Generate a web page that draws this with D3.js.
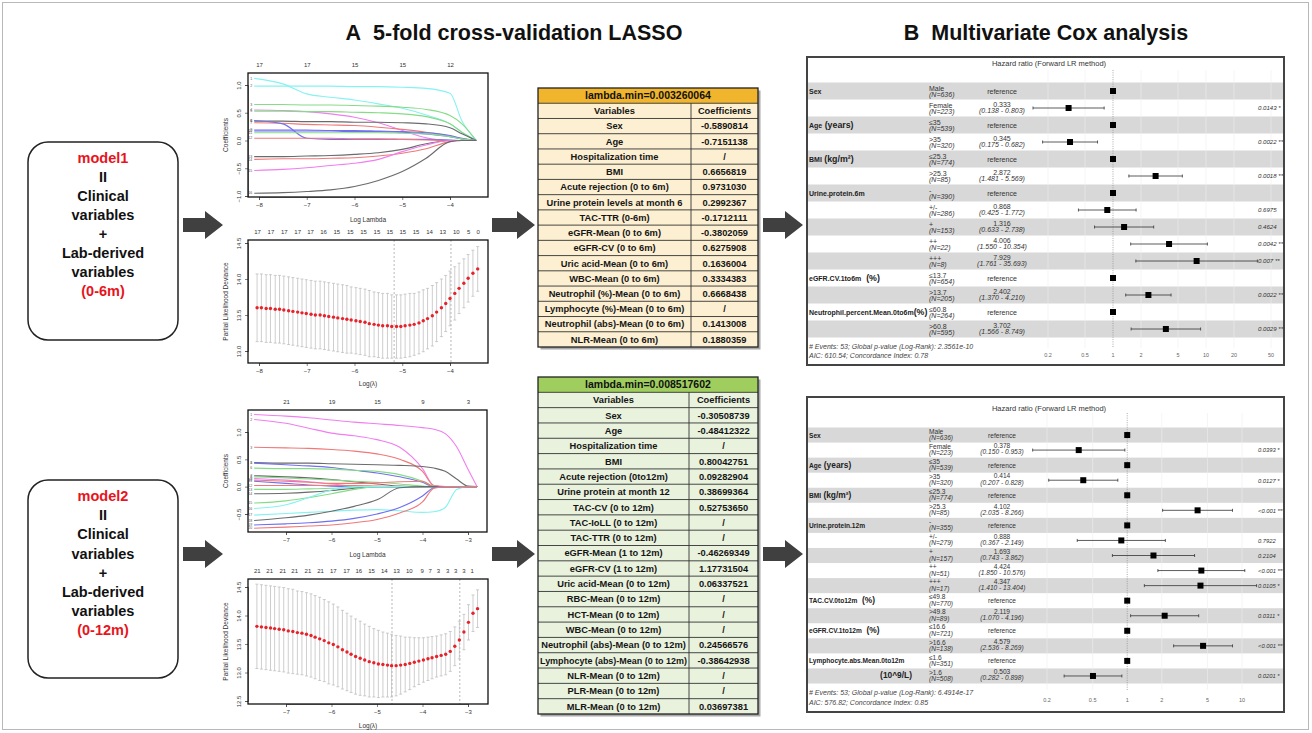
<!DOCTYPE html>
<html>
<head>
<meta charset="utf-8">
<script src="https://cdn.jsdelivr.net/npm/d3@7/dist/d3.min.js"></script>
<style>
  body { margin: 0; background: #fff; }
  svg { display: block; font-family: "Liberation Sans", Arial, sans-serif; }
</style>
</head>
<body>
<svg id="fig" width="1312" height="733"></svg>
<script>
// ---------------- LASSO coefficient paths, model 1 ----------------
var coef1Knots = [-8.1, -7.5, -7.0, -6.5, -6.0, -5.5, -5.0, -4.5, -4.0, -3.75, -3.45];
var coef1Paths = [
  [1.12, 1.02, 0.84, 0.78, 0.73, 0.66, 0.58, 0.46, 0.30, 0.15, 0],
  [0.98, 0.98, 0.98, 0.98, 0.97, 0.97, 0.96, 0.94, 0.85, 0.35, 0],
  [0.65, 0.65, 0.64, 0.64, 0.63, 0.62, 0.60, 0.56, 0.45, 0.30, 0],
  [0.55, 0.54, 0.52, 0.48, 0.42, 0.32, 0.18, 0.05, 0, 0, 0],
  [0.53, 0.53, 0.52, 0.52, 0.51, 0.50, 0.48, 0.43, 0.30, 0.15, 0],
  [0.35, 0.35, 0.34, 0.34, 0.33, 0.33, 0.32, 0.30, 0.23, 0.12, 0],
  [0.32, 0.31, 0.29, 0.28, 0.27, 0.24, 0.20, 0.15, 0.08, 0.03, 0],
  [0.36, 0.30, 0.04, 0.02, 0.02, 0.02, 0.02, 0.02, 0.01, 0, 0],
  [0.19, 0.19, 0.19, 0.18, 0.18, 0.17, 0.16, 0.14, 0.09, 0.04, 0],
  [0.17, 0.17, 0.17, 0.17, 0.16, 0.16, 0.15, 0.12, 0.07, 0.03, 0],
  [0.14, 0.14, 0.14, 0.14, 0.14, 0.14, 0.13, 0.12, 0.07, 0.03, 0],
  [0.04, 0.04, 0.04, 0.04, 0.03, 0.03, 0.02, 0.01, 0, 0, 0],
  [-0.29, -0.29, -0.28, -0.27, -0.25, -0.22, -0.16, -0.06, 0, 0, 0],
  [-0.34, -0.33, -0.33, -0.32, -0.31, -0.28, -0.23, -0.15, -0.02, 0, 0],
  [-0.54, -0.52, -0.49, -0.45, -0.41, -0.34, -0.20, -0.08, 0, 0, 0],
  [-0.95, -0.94, -0.92, -0.89, -0.83, -0.72, -0.56, -0.32, -0.02, 0, 0]
];
var coef1Cols = ["c", "c", "g", "m", "g", "k", "r", "b", "b", "b", "g", "r", "k", "r", "m", "k"];
var coef1TopX = [-8, -7, -6, -5, -4];
var coef1TopLab = ["17", "17", "15", "15", "12"];

// ---------------- CV deviance, model 1 ----------------
var cv1X = [-8.04, -7.95, -7.85, -7.76, -7.66, -7.57, -7.48, -7.38, -7.29, -7.19,
            -7.10, -7.01, -6.91, -6.82, -6.72, -6.63, -6.54, -6.44, -6.35, -6.25,
            -6.16, -6.07, -5.97, -5.88, -5.78, -5.69, -5.59, -5.50, -5.41, -5.31,
            -5.22, -5.12, -5.03, -4.94, -4.84, -4.75, -4.65, -4.56, -4.47, -4.37,
            -4.28, -4.18, -4.09, -4.00, -3.90, -3.81, -3.71, -3.62, -3.52, -3.42];
var cv1Mean = [13.60, 13.60, 13.59, 13.59, 13.58, 13.58, 13.57, 13.56, 13.55, 13.54,
               13.53, 13.52, 13.51, 13.50, 13.50, 13.49, 13.48, 13.47, 13.46, 13.45,
               13.44, 13.43, 13.42, 13.41, 13.40, 13.38, 13.37, 13.36, 13.35, 13.35,
               13.34, 13.34, 13.34, 13.35, 13.36, 13.37, 13.39, 13.42, 13.45, 13.49,
               13.54, 13.60, 13.66, 13.73, 13.80, 13.87, 13.94, 14.01, 14.08, 14.14];
var cv1Se = [0.47, 0.47, 0.47, 0.47, 0.47, 0.47, 0.47, 0.47, 0.47, 0.47,
             0.47, 0.47, 0.47, 0.47, 0.47, 0.47, 0.47, 0.47, 0.47, 0.47,
             0.47, 0.46, 0.46, 0.46, 0.46, 0.46, 0.45, 0.45, 0.45, 0.45,
             0.44, 0.44, 0.44, 0.44, 0.44, 0.43, 0.43, 0.43, 0.42, 0.42,
             0.41, 0.40, 0.39, 0.38, 0.37, 0.35, 0.34, 0.33, 0.32, 0.31];
var cv1TopX = [-8.04, -7.76, -7.48, -7.20, -6.93, -6.66, -6.38, -6.10, -5.82, -5.54,
               -5.27, -5.00, -4.72, -4.44, -4.16, -3.88, -3.62, -3.42];
var cv1TopLab = ["17", "17", "17", "17", "17", "16", "15", "15", "15", "15",
                 "15", "15", "15", "14", "13", "10", "5", "0"];
var cv1Lines = [-5.17, -3.98];

// ---------------- LASSO coefficient paths, model 2 ----------------
var coef2Knots = [-7.7, -7.0, -6.5, -6.0, -5.5, -5.0, -4.5, -4.0, -3.75, -3.5, -3.25, -3.0, -2.8];
var coef2Paths = [
  [1.32, 1.29, 1.26, 1.22, 1.18, 1.15, 1.12, 1.08, 1.05, 0.97, 0.73, 0.32, 0],
  [1.23, 1.16, 1.07, 0.98, 0.93, 0.86, 0.72, 0.33, 0.02, 0, 0, 0, 0],
  [0.72, 0.71, 0.70, 0.68, 0.65, 0.60, 0.50, 0.28, 0.02, 0, 0, 0, 0],
  [0.44, 0.43, 0.43, 0.42, 0.41, 0.40, 0.39, 0.37, 0.34, 0.28, 0.14, 0.01, 0],
  [0.43, 0.40, 0.38, 0.35, 0.30, 0.25, 0.18, 0.08, 0, 0, 0, 0, 0],
  [0.34, 0.33, 0.33, 0.32, 0.30, 0.28, 0.22, 0.10, 0.01, 0, 0, 0, 0],
  [0.20, 0.18, 0.16, 0.13, 0.09, 0.05, 0.01, 0, 0, 0, 0, 0, 0],
  [0.18, 0.16, 0.14, 0.12, 0.10, 0.08, 0.05, 0.01, 0, 0, 0, 0, 0],
  [0.15, 0.12, 0.09, 0.05, 0.01, 0, 0, 0, 0, 0, 0, 0, 0],
  [0.12, 0.10, 0.08, 0.06, 0.06, 0.07, 0.09, 0.10, 0, 0, 0, 0, 0],
  [0.10, 0.06, 0.03, 0.01, 0, 0, 0, 0, 0, 0, 0, 0, 0],
  [0.02, 0.02, 0.02, 0.02, 0.02, 0.01, 0, 0, 0, 0, 0, 0, 0],
  [-0.05, -0.05, -0.04, -0.03, -0.01, 0, 0, 0, 0, 0, 0, 0, 0],
  [-0.13, -0.12, -0.10, -0.07, -0.03, 0, 0, 0, 0, 0, 0, 0, 0],
  [-0.30, -0.26, -0.20, -0.13, -0.05, 0, 0, 0, 0, 0, 0, 0, 0],
  [-0.40, -0.33, -0.20, -0.06, 0, 0, 0, 0, 0, 0, 0, 0, 0],
  [-0.52, -0.49, -0.47, -0.45, -0.43, -0.42, -0.44, -0.47, -0.46, -0.38, -0.05, 0, 0],
  [-0.62, -0.57, -0.52, -0.45, -0.36, -0.24, -0.02, 0, 0, 0, 0, 0, 0],
  [-0.70, -0.68, -0.66, -0.63, -0.58, -0.50, -0.38, -0.17, -0.02, 0, 0, 0, 0],
  [-0.76, -0.74, -0.72, -0.70, -0.66, -0.60, -0.48, -0.28, -0.03, 0, 0, 0, 0]
];
var coef2Cols = ["m", "m", "r", "k", "b", "g", "k", "g", "m", "r", "b", "r", "g", "k", "g", "c", "c", "k", "b", "r"];
var coef2TopX = [-7, -6, -5, -4, -3];
var coef2TopLab = ["21", "19", "15", "9", "3"];

// ---------------- CV deviance, model 2 ----------------
var cv2X = [-7.64, -7.54, -7.44, -7.34, -7.25, -7.15, -7.05, -6.95, -6.85, -6.75,
            -6.65, -6.55, -6.45, -6.36, -6.26, -6.16, -6.06, -5.96, -5.86, -5.76,
            -5.66, -5.57, -5.47, -5.37, -5.27, -5.17, -5.07, -4.97, -4.87, -4.77,
            -4.68, -4.58, -4.48, -4.38, -4.28, -4.18, -4.08, -3.98, -3.88, -3.79,
            -3.69, -3.59, -3.49, -3.39, -3.29, -3.19, -3.09, -2.99, -2.89, -2.79];
var cv2Mean = [13.81, 13.80, 13.79, 13.78, 13.77, 13.76, 13.75, 13.73, 13.72, 13.70,
               13.69, 13.67, 13.65, 13.62, 13.59, 13.56, 13.52, 13.49, 13.45, 13.40,
               13.36, 13.32, 13.28, 13.25, 13.22, 13.19, 13.17, 13.15, 13.14, 13.13,
               13.12, 13.12, 13.13, 13.14, 13.16, 13.18, 13.20, 13.22, 13.24, 13.26,
               13.28, 13.30, 13.32, 13.37, 13.46, 13.57, 13.71, 13.88, 14.04, 14.12];
var cv2Se = [0.74, 0.74, 0.74, 0.74, 0.74, 0.74, 0.74, 0.74, 0.74, 0.73,
             0.73, 0.73, 0.73, 0.73, 0.73, 0.72, 0.72, 0.71, 0.70, 0.69,
             0.68, 0.67, 0.66, 0.65, 0.63, 0.62, 0.60, 0.59, 0.57, 0.56,
             0.55, 0.53, 0.51, 0.48, 0.46, 0.43, 0.41, 0.39, 0.38, 0.37,
             0.36, 0.36, 0.36, 0.35, 0.34, 0.33, 0.31, 0.31, 0.32, 0.33];
var cv2TopX = [-7.64, -7.37, -7.08, -6.82, -6.53, -6.25, -5.97, -5.68, -5.41, -5.13,
               -4.85, -4.58, -4.30, -4.02, -3.84, -3.66, -3.46, -3.28, -3.10, -2.92];
var cv2TopLab = ["21", "21", "21", "21", "21", "21", "17", "17", "16", "15",
                 "14", "13", "10", "9", "7", "3", "3", "3", "3", "1"];
var cv2Lines = [-4.67, -3.18];

// ---------------- LASSO tables ----------------
var tab1Vars = ["Sex", "Age", "Hospitalization time", "BMI", "Acute rejection (0 to 6m)",
  "Urine protein levels at month 6", "TAC-TTR (0-6m)", "eGFR-Mean (0 to 6m)", "eGFR-CV (0 to 6m)",
  "Uric acid-Mean (0 to 6m)", "WBC-Mean (0 to 6m)", "Neutrophil (%)-Mean (0 to 6m)",
  "Lymphocyte (%)-Mean (0 to 6m)", "Neutrophil (abs)-Mean (0 to 6m)", "NLR-Mean (0 to 6m)"];
var tab1Coefs = ["-0.5890814", "-0.7151138", "/", "0.6656819", "0.9731030", "0.2992367", "-0.1712111",
  "-0.3802059", "0.6275908", "0.1636004", "0.3334383", "0.6668438", "/", "0.1413008", "0.1880359"];
var tab2Vars = ["Sex", "Age", "Hospitalization time", "BMI", "Acute rejection (0to12m)",
  "Urine protein at month 12", "TAC-CV (0 to 12m)", "TAC-IoLL (0 to 12m)", "TAC-TTR (0 to 12m)",
  "eGFR-Mean (1 to 12m)", "eGFR-CV (1 to 12m)", "Uric acid-Mean (0 to 12m)", "RBC-Mean (0 to 12m)",
  "HCT-Mean (0 to 12m)", "WBC-Mean (0 to 12m)", "Neutrophil (abs)-Mean (0 to 12m)",
  "Lymphocyte (abs)-Mean (0 to 12m)", "NLR-Mean (0 to 12m)", "PLR-Mean (0 to 12m)", "MLR-Mean (0 to 12m)"];
var tab2Coefs = ["-0.30508739", "-0.48412322", "/", "0.80042751", "0.09282904", "0.38699364", "0.52753650",
  "/", "/", "-0.46269349", "1.17731504", "0.06337521", "/", "/", "/", "0.24566576", "-0.38642938",
  "/", "/", "0.03697381"];

// ---------------- Cox forest, model 1 ----------------
var f1Levels = ["Male", "Female", "\u226435", ">35", "\u226425.3", ">25.3", "-", "+/-", "+", "++", "+++",
                "\u226413.7", ">13.7", "\u226460.8", ">60.8"];
var f1N = [636, 223, 539, 320, 774, 85, 390, 286, 153, 22, 8, 654, 205, 264, 595];
var f1HR = [1, 0.333, 1, 0.345, 1, 2.872, 1, 0.868, 1.316, 4.006, 7.929, 1, 2.402, 1, 3.702];
var f1Lo = [null, 0.138, null, 0.175, null, 1.481, null, 0.425, 0.633, 1.550, 1.761, null, 1.370, null, 1.566];
var f1Hi = [null, 0.803, null, 0.682, null, 5.569, null, 1.772, 2.738, 10.354, 35.693, null, 4.210, null, 8.749];
var f1P = ["", "0.0143 *", "", "0.0022 **", "", "0.0018 **", "", "0.6975", "0.4624", "0.0042 **",
           "0.007 **", "", "0.0022 **", "", "0.0029 **"];
var f1VarRows = [0, 2, 4, 6, 11, 13];
var f1VarNames = ["Sex", "Age", "BMI", "Urine.protein.6m", "eGFR.CV.1to6m", "Neutrophil.percent.Mean.0to6m"];
var f1VarUnits = ["", " (years)", " (kg/m\u00b2)", "", "  (%)", "(%)"];
var f1Ticks = [0.2, 0.5, 1, 2, 5, 10, 20, 50];
var f1Notes = ["# Events: 53; Global p-value (Log-Rank): 2.3561e-10", "AIC: 610.54; Concordance Index: 0.78"];

// ---------------- Cox forest, model 2 ----------------
var f2Levels = ["Male", "Female", "\u226435", ">35", "\u226425.3", ">25.3", "-", "+/-", "+", "++", "+++",
                "\u226449.8", ">49.8", "\u226416.6", ">16.6", "\u22641.6", ">1.6"];
var f2N = [636, 223, 539, 320, 774, 85, 355, 279, 157, 51, 17, 770, 89, 721, 138, 351, 508];
var f2HR = [1, 0.378, 1, 0.414, 1, 4.102, 1, 0.888, 1.693, 4.424, 4.347, 1, 2.119, 1, 4.579, 1, 0.503];
var f2Lo = [null, 0.150, null, 0.207, null, 2.035, null, 0.367, 0.743, 1.850, 1.410, null, 1.070, null, 2.536, null, 0.282];
var f2Hi = [null, 0.953, null, 0.828, null, 8.266, null, 2.149, 3.862, 10.576, 13.404, null, 4.196, null, 8.269, null, 0.898];
var f2P = ["", "0.0393 *", "", "0.0127 *", "", "<0.001 ***", "", "0.7922", "0.2104", "<0.001 ***",
           "0.0105 *", "", "0.0311 *", "", "<0.001 ***", "", "0.0201 *"];
var f2VarRows = [0, 2, 4, 6, 11, 13, 15, 16];
var f2VarNames = ["Sex", "Age", "BMI", "Urine.protein.12m", "TAC.CV.0to12m", "eGFR.CV.1to12m",
                  "Lymphocyte.abs.Mean.0to12m", ""];
var f2VarUnits = ["", " (years)", " (kg/m\u00b2)", "", "  (%)", "  (%)", "", "(10^9/L)"];
var f2Ticks = [0.2, 0.5, 1, 2, 5, 10];
var f2Notes = ["# Events: 53; Global p-value (Log-Rank): 6.4914e-17", "AIC: 576.82; Concordance Index: 0.85"];

// ---------------- drawing ----------------
var FONT = '"Liberation Sans", Arial, sans-serif';
var rPal = { k: "#6b6b6b", r: "#f07878", g: "#86dc86", b: "#6f6ff0", c: "#86f2f2", m: "#f07ef0" };
var svg = d3.select("#fig");

svg.append("rect").attr("x", 2.5).attr("y", 2.5).attr("width", 1306).attr("height", 727)
  .attr("fill", "#fff").attr("stroke", "#b8b8b8");

svg.append("text").attr("x", 514).attr("y", 40).attr("text-anchor", "middle")
  .attr("font-size", 21.5).attr("font-weight", "bold").attr("fill", "#111")
  .text("A\u00a0\u00a05-fold cross-validation LASSO");
svg.append("text").attr("x", 1046).attr("y", 40).attr("text-anchor", "middle")
  .attr("font-size", 21.5).attr("font-weight", "bold").attr("fill", "#111")
  .text("B\u00a0\u00a0Multivariate Cox analysis");

function modelBox(y0, lines, step) {
  svg.append("rect").attr("x", 28).attr("y", y0).attr("width", 150).attr("height", 198).attr("rx", 20)
    .attr("fill", "#fff").attr("stroke", "#222").attr("stroke-width", 1.5);
  svg.append("g").selectAll("text").data(lines).join("text")
    .attr("x", 103).attr("y", function(d, i) { return y0 + 21 + i * step; })
    .attr("text-anchor", "middle").attr("font-size", 14.5).attr("font-weight", "bold")
    .attr("fill", function(d, i) { return (i === 0 || i === lines.length - 1) ? "#e8141b" : "#111"; })
    .text(function(d) { return d; });
}
modelBox(142, ["model1", "II", "Clinical", "variables", "+", "Lab-derived", "variables", "(0-6m)"], 19);
modelBox(480, ["model2", "II", "Clinical", "variables", "+", "Lab-derived", "variables", "(0-12m)"], 19.2);

function arrow(x0, x1, cy) {
  var hw = 18, sh = 7, hh = 14;
  var pts = [[x0, cy - sh], [x1 - hw, cy - sh], [x1 - hw, cy - hh], [x1, cy],
             [x1 - hw, cy + hh], [x1 - hw, cy + sh], [x0, cy + sh]];
  svg.append("path").attr("d", d3.line()(pts) + "Z").attr("fill", "#404040");
}
[225, 554].forEach(function(cy) {
  arrow(183, 223, cy);
  arrow(492, 535, cy);
  arrow(763, 803, cy);
});

function styleAxis(a) {
  a.attr("font-family", FONT);
  a.selectAll("text").attr("font-size", 6).attr("fill", "#333");
  a.selectAll("line,path").attr("stroke", "#333").attr("stroke-width", 0.6);
}

function rAxes(g, x, y, cfg) {
  var b = cfg.box;
  var bx = g.append("g").attr("transform", "translate(0," + b.y1 + ")")
    .call(d3.axisBottom(x).tickValues(cfg.xt).tickSize(3).tickPadding(3).tickFormat(d3.format("d")));
  var ly = g.append("g").attr("transform", "translate(" + b.x0 + ",0)")
    .call(d3.axisLeft(y).tickValues(cfg.yt).tickSize(3).tickFormat(d3.format(".1f")));
  ly.selectAll(".tick text").attr("x", 0).attr("dy", 0).attr("text-anchor", "middle")
    .attr("transform", "translate(-7,0) rotate(-90)");
  var tp = g.append("g").attr("transform", "translate(0," + b.y0 + ")")
    .call(d3.axisTop(x).tickValues(cfg.topX).tickSize(0).tickPadding(6)
      .tickFormat(function(d, i) { return cfg.topLab[i]; }));
  tp.select(".domain").remove();
  [bx, ly, tp].forEach(styleAxis);
  g.append("text").attr("x", (b.x0 + b.x1) / 2).attr("y", cfg.xlabY).attr("text-anchor", "middle")
    .attr("font-size", 6.5).attr("fill", "#333").text(cfg.xlab);
  g.append("text").attr("transform", "translate(228," + ((b.y0 + b.y1) / 2) + ") rotate(-90)")
    .attr("text-anchor", "middle").attr("font-size", 6.5).attr("fill", "#333").text(cfg.ylab);
  g.append("rect").attr("x", b.x0).attr("y", b.y0).attr("width", b.x1 - b.x0).attr("height", b.y1 - b.y0)
    .attr("fill", "none").attr("stroke", "#111").attr("stroke-width", 1.3);
}

function coefPlot(cfg) {
  var g = svg.append("g");
  var x = d3.scaleLinear().domain(cfg.xd).range(cfg.xr);
  var y = d3.scaleLinear().domain(cfg.yd).range(cfg.yr);
  var line = d3.line()
    .x(function(d, i) { return x(cfg.knots[i]); })
    .y(function(d) { return y(d); })
    .curve(d3.curveMonotoneX);
  g.append("g").selectAll("path").data(cfg.paths).join("path")
    .attr("d", line).attr("fill", "none").attr("stroke-width", 1.1)
    .attr("stroke", function(d, i) { return rPal[cfg.cols[i]]; });
  g.append("g").selectAll("text").data(cfg.paths).join("text")
    .attr("x", x(cfg.knots[0]) - 2).attr("y", function(d) { return y(d[0]) + 1.2; })
    .attr("text-anchor", "end").attr("font-size", 3.5).attr("fill", "#555")
    .text(function(d, i) { return i + 1; });
  rAxes(g, x, y, cfg);
}

function cvPlot(cfg) {
  var g = svg.append("g");
  var x = d3.scaleLinear().domain(cfg.xd).range(cfg.xr);
  var y = d3.scaleLinear().domain(cfg.yd).range(cfg.yr);
  var pts = cfg.lx.map(function(v, i) { return { x: v, m: cfg.mean[i], s: cfg.se[i] }; });
  g.append("g").selectAll("line").data(cfg.vlines).join("line")
    .attr("x1", function(d) { return x(d); }).attr("x2", function(d) { return x(d); })
    .attr("y1", cfg.box.y0).attr("y2", cfg.box.y1)
    .attr("stroke", "#999").attr("stroke-width", 0.7).attr("stroke-dasharray", "2,2");
  var eb = g.append("g").attr("stroke", "#b9b9b9").attr("stroke-width", 0.7);
  eb.selectAll("line.v").data(pts).join("line").attr("class", "v")
    .attr("x1", function(d) { return x(d.x); }).attr("x2", function(d) { return x(d.x); })
    .attr("y1", function(d) { return y(d.m + d.s); }).attr("y2", function(d) { return y(d.m - d.s); });
  eb.selectAll("line.t").data(pts).join("line").attr("class", "t")
    .attr("x1", function(d) { return x(d.x) - 1.5; }).attr("x2", function(d) { return x(d.x) + 1.5; })
    .attr("y1", function(d) { return y(d.m + d.s); }).attr("y2", function(d) { return y(d.m + d.s); });
  eb.selectAll("line.b").data(pts).join("line").attr("class", "b")
    .attr("x1", function(d) { return x(d.x) - 1.5; }).attr("x2", function(d) { return x(d.x) + 1.5; })
    .attr("y1", function(d) { return y(d.m - d.s); }).attr("y2", function(d) { return y(d.m - d.s); });
  g.append("g").selectAll("circle").data(pts).join("circle")
    .attr("cx", function(d) { return x(d.x); }).attr("cy", function(d) { return y(d.m); })
    .attr("r", 1.7).attr("fill", "#e8222a");
  rAxes(g, x, y, cfg);
}

coefPlot({ box: { x0: 248, x1: 488, y0: 73, y1: 197 }, xd: [-8, -4], xr: [259, 450], yd: [-1, 1], yr: [196, 85],
  knots: coef1Knots, paths: coef1Paths, cols: coef1Cols, xt: [-8, -7, -6, -5, -4], yt: [-1, -0.5, 0, 0.5, 1],
  topX: coef1TopX, topLab: coef1TopLab, xlab: "Log Lambda", xlabY: 222, ylab: "Coefficients" });
cvPlot({ box: { x0: 248, x1: 488, y0: 240, y1: 363 }, xd: [-8, -4], xr: [259, 450], yd: [13, 14.5], yr: [351, 243],
  lx: cv1X, mean: cv1Mean, se: cv1Se, vlines: cv1Lines, xt: [-8, -7, -6, -5, -4], yt: [13, 13.5, 14, 14.5],
  topX: cv1TopX, topLab: cv1TopLab, xlab: "Log(\u03bb)", xlabY: 386, ylab: "Partial Likelihood Deviance" });
coefPlot({ box: { x0: 248, x1: 487, y0: 410, y1: 532 }, xd: [-7, -3], xr: [286, 468], yd: [-0.5, 1], yr: [514, 432],
  knots: coef2Knots, paths: coef2Paths, cols: coef2Cols, xt: [-7, -6, -5, -4, -3], yt: [-0.5, 0, 0.5, 1],
  topX: coef2TopX, topLab: coef2TopLab, xlab: "Log Lambda", xlabY: 557, ylab: "Coefficients" });
cvPlot({ box: { x0: 248, x1: 488, y0: 579, y1: 704 }, xd: [-7, -3], xr: [286, 468], yd: [12.5, 14.5], yr: [701, 587],
  lx: cv2X, mean: cv2Mean, se: cv2Se, vlines: cv2Lines, xt: [-7, -6, -5, -4, -3], yt: [12.5, 13, 13.5, 14, 14.5],
  topX: cv2TopX, topLab: cv2TopLab, xlab: "Log(\u03bb)", xlabY: 728, ylab: "Partial Likelihood Deviance" });

function fitText(sel, maxW) {
  sel.each(function() {
    if (this.getComputedTextLength() > maxW) {
      d3.select(this).attr("textLength", maxW).attr("lengthAdjust", "spacingAndGlyphs");
    }
  });
}

function table(cfg) {
  var g = svg.append("g");
  var rows = [["Variables", "Coefficients"]].concat(cfg.vars.map(function(v, i) { return [v, cfg.coefs[i]]; }));
  var y = d3.scaleBand().domain(d3.range(rows.length + 1)).range([cfg.y0, cfg.y1]);
  var h = y.bandwidth();
  g.append("rect").attr("x", cfg.x0 + 2.5).attr("y", cfg.y0 + 2.5).attr("width", cfg.x1 - cfg.x0)
    .attr("height", cfg.y1 - cfg.y0).attr("fill", "#a8a8a8");
  g.append("rect").attr("x", cfg.x0).attr("y", cfg.y0).attr("width", cfg.x1 - cfg.x0)
    .attr("height", cfg.y1 - cfg.y0).attr("fill", cfg.body);
  g.append("rect").attr("x", cfg.x0).attr("y", cfg.y0).attr("width", cfg.x1 - cfg.x0)
    .attr("height", h).attr("fill", cfg.head);
  g.append("g").selectAll("line").data(d3.range(1, rows.length + 1)).join("line")
    .attr("x1", cfg.x0).attr("x2", cfg.x1)
    .attr("y1", function(d) { return y(d); }).attr("y2", function(d) { return y(d); })
    .attr("stroke", "#333").attr("stroke-width", 0.9);
  g.append("line").attr("x1", cfg.xd).attr("x2", cfg.xd).attr("y1", y(1)).attr("y2", cfg.y1)
    .attr("stroke", "#333").attr("stroke-width", 0.9);
  g.append("rect").attr("x", cfg.x0).attr("y", cfg.y0).attr("width", cfg.x1 - cfg.x0)
    .attr("height", cfg.y1 - cfg.y0).attr("fill", "none").attr("stroke", "#222").attr("stroke-width", 1.3);
  g.append("text").attr("x", (cfg.x0 + cfg.x1) / 2).attr("y", y(0) + h / 2 + 3.7)
    .attr("text-anchor", "middle").attr("font-size", 10.5).attr("font-weight", "bold").attr("fill", "#111")
    .text(cfg.title);
  var r = g.append("g").selectAll("g").data(rows).join("g")
    .attr("transform", function(d, i) { return "translate(0," + (y(i + 1) + h / 2 + 3.3) + ")"; });
  var c1 = r.append("text").attr("x", (cfg.x0 + cfg.xd) / 2).attr("text-anchor", "middle")
    .attr("font-size", 9.3).attr("font-weight", "bold").attr("fill", "#151515")
    .text(function(d) { return d[0]; });
  fitText(c1, cfg.xd - cfg.x0 - 4);
  r.append("text").attr("x", (cfg.xd + cfg.x1) / 2).attr("text-anchor", "middle")
    .attr("font-size", 9.3).attr("font-weight", "bold").attr("fill", "#151515")
    .text(function(d) { return d[1]; });
}

table({ x0: 538, xd: 691, x1: 758, y0: 88, y1: 347, head: "#f0b52d", body: "#fdf0d2",
  title: "lambda.min=0.003260064", vars: tab1Vars, coefs: tab1Coefs });
table({ x0: 538, xd: 689, x1: 758, y0: 377, y1: 714, head: "#9fce5f", body: "#e9f2dd",
  title: "lambda.min=0.008517602", vars: tab2Vars, coefs: tab2Coefs });

function forest(cfg) {
  var g = svg.append("g");
  var n = cfg.levels.length;
  var x = d3.scaleLog().domain(cfg.xd).range(cfg.xr);
  var y = d3.scaleBand().domain(d3.range(n)).range(cfg.yr);
  var cy = function(i) { return y(i) + y.bandwidth() / 2; };
  var f3 = d3.format(".3f");
  var b = cfg.box;
  g.append("clipPath").attr("id", cfg.id).append("rect")
    .attr("x", b.x0).attr("y", b.y0).attr("width", b.x1 - b.x0).attr("height", b.y1 - b.y0);
  var inner = g.append("g").attr("clip-path", "url(#" + cfg.id + ")");
  inner.append("rect").attr("x", b.x0).attr("y", b.y0).attr("width", b.x1 - b.x0).attr("height", b.y1 - b.y0)
    .attr("fill", "#fff");
  inner.append("g").selectAll("rect").data(d3.range(0, n, 2)).join("rect")
    .attr("x", b.x0).attr("width", b.x1 - b.x0)
    .attr("y", function(i) { return y(i); }).attr("height", y.bandwidth()).attr("fill", "#d8d8d8");
  inner.append("g").selectAll("line").data(cfg.ticks.filter(function(t) { return t !== 1; })).join("line")
    .attr("x1", function(d) { return x(d); }).attr("x2", function(d) { return x(d); })
    .attr("y1", cfg.refY[0]).attr("y2", cfg.refY[1]).attr("stroke", "#eeeeee").attr("stroke-width", 0.6);
  inner.append("line").attr("x1", x(1)).attr("x2", x(1)).attr("y1", cfg.refY[0]).attr("y2", cfg.refY[1])
    .attr("stroke", "#888").attr("stroke-width", 0.7).attr("stroke-dasharray", "1,1.3");
  inner.append("text").attr("x", 1049).attr("y", cfg.titleY).attr("text-anchor", "middle")
    .attr("font-size", 7.5).attr("fill", "#333").text("Hazard ratio (Forward LR method)");

  var est = d3.range(n).filter(function(i) { return cfg.lo[i] !== null; });
  var ci = inner.append("g").attr("stroke", "#333").attr("stroke-width", 0.8);
  ci.selectAll("line.ci").data(est).join("line").attr("class", "ci")
    .attr("x1", function(i) { return x(cfg.lo[i]); }).attr("x2", function(i) { return x(cfg.hi[i]); })
    .attr("y1", cy).attr("y2", cy);
  ci.selectAll("line.l").data(est).join("line").attr("class", "l")
    .attr("x1", function(i) { return x(cfg.lo[i]); }).attr("x2", function(i) { return x(cfg.lo[i]); })
    .attr("y1", function(i) { return cy(i) - 1.5; }).attr("y2", function(i) { return cy(i) + 1.5; });
  ci.selectAll("line.h").data(est).join("line").attr("class", "h")
    .attr("x1", function(i) { return x(cfg.hi[i]); }).attr("x2", function(i) { return x(cfg.hi[i]); })
    .attr("y1", function(i) { return cy(i) - 1.5; }).attr("y2", function(i) { return cy(i) + 1.5; });
  inner.append("g").selectAll("rect").data(d3.range(n)).join("rect")
    .attr("x", function(i) { return x(cfg.hr[i]) - 3; }).attr("y", function(i) { return cy(i) - 3; })
    .attr("width", 6).attr("height", 6).attr("fill", "#000");

  var fs = cfg.fs;
  var vt = inner.append("g").selectAll("text").data(cfg.varRows).join("text")
    .attr("x", function(r, k) { return cfg.varNames[k] ? 809 : 912; })
    .attr("text-anchor", function(r, k) { return cfg.varNames[k] ? "start" : "end"; })
    .attr("y", function(r) { return cy(r) + 2.5; }).attr("font-weight", "bold").attr("fill", "#222");
  vt.append("tspan").attr("font-size", fs).text(function(r, k) { return cfg.varNames[k]; });
  vt.append("tspan").attr("font-size", fs + 1.8).style("white-space", "pre")
    .text(function(r, k) { return cfg.varUnits[k]; });

  var rows = inner.append("g").selectAll("g").data(d3.range(n)).join("g")
    .attr("transform", function(i) { return "translate(0," + cy(i) + ")"; })
    .attr("fill", "#333").attr("font-size", fs);
  rows.append("text").attr("x", 929).attr("y", cfg.lvDy).text(function(i) { return cfg.levels[i]; });
  rows.append("text").attr("x", 929).attr("y", cfg.nDy).attr("font-style", "italic")
    .text(function(i) { return "(N=" + cfg.nn[i] + ")"; });
  rows.filter(function(i) { return cfg.lo[i] === null; }).append("text")
    .attr("x", 1002).attr("y", 2.5).attr("text-anchor", "middle").text("reference");
  var e = rows.filter(function(i) { return cfg.lo[i] !== null; });
  e.append("text").attr("x", 1002).attr("y", cfg.hrDy).attr("text-anchor", "middle")
    .text(function(i) { return f3(cfg.hr[i]); });
  e.append("text").attr("x", 1002).attr("y", cfg.ciDy).attr("text-anchor", "middle").attr("font-style", "italic")
    .text(function(i) { return "(" + f3(cfg.lo[i]) + " - " + f3(cfg.hi[i]) + ")"; });
  rows.append("text").attr("x", 1258).attr("y", 2.3).attr("font-style", "italic").attr("font-size", cfg.pfs)
    .text(function(i) { return cfg.p[i]; });

  inner.append("g").selectAll("text").data(cfg.ticks).join("text")
    .attr("x", function(d) { return x(d); }).attr("y", cfg.tickY).attr("text-anchor", "middle")
    .attr("font-size", 5.5).attr("fill", "#666").text(function(d) { return d; });
  inner.append("g").selectAll("text").data(cfg.notes).join("text")
    .attr("x", 809).attr("y", function(d, i) { return cfg.noteY[i]; })
    .attr("font-size", 7).attr("font-style", "italic").attr("fill", "#444").text(function(d) { return d; });

  g.append("rect").attr("x", b.x0).attr("y", b.y0).attr("width", b.x1 - b.x0).attr("height", b.y1 - b.y0)
    .attr("fill", "none").attr("stroke", "#444").attr("stroke-width", 2);
}

forest({ id: "clipF1", box: { x0: 807, x1: 1284, y0: 57, y1: 365 }, xd: [0.2, 50], xr: [1048, 1271],
  yr: [82.5, 337.5], refY: [70, 348], titleY: 65.5, tickY: 357, noteY: [348.5, 358],
  levels: f1Levels, nn: f1N, hr: f1HR, lo: f1Lo, hi: f1Hi, p: f1P, ticks: f1Ticks, notes: f1Notes,
  varRows: f1VarRows, varNames: f1VarNames, varUnits: f1VarUnits,
  fs: 7, pfs: 6.1, lvDy: -0.5, nDy: 5.8, hrDy: -0.8, ciDy: 5.4 });
forest({ id: "clipF2", box: { x0: 807, x1: 1284, y0: 397, y1: 712 }, xd: [0.2, 10], xr: [1047, 1242],
  yr: [427.5, 683.5], refY: [413, 690], titleY: 410.5, tickY: 702, noteY: [694.5, 705],
  levels: f2Levels, nn: f2N, hr: f2HR, lo: f2Lo, hi: f2Hi, p: f2P, ticks: f2Ticks, notes: f2Notes,
  varRows: f2VarRows, varNames: f2VarNames, varUnits: f2VarUnits,
  fs: 6.6, pfs: 5.8, lvDy: -1.3, nDy: 5.0, hrDy: -1.8, ciDy: 4.3 });
</script>
</body>
</html>
